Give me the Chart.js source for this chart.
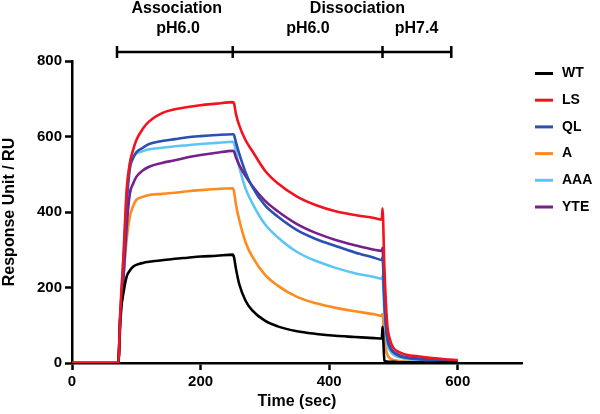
<!DOCTYPE html>
<html>
<head>
<meta charset="utf-8">
<script src="https://cdn.jsdelivr.net/npm/chart.js@4/dist/chart.umd.min.js"></script>
<style>
  body { margin: 0; background: #fff; }
  canvas { display: block; }
</style>
</head>
<body>
<canvas id="sensorgram" width="600" height="414"></canvas>
<script>
// time points (sec)
var time = [0, 72, 75, 80, 85, 90, 95, 100, 110, 120, 140, 160, 180, 200, 225, 250,
    252, 255, 260, 270, 280, 300, 320, 350, 380, 410, 440, 470, 482,
    483, 486, 490, 495, 500, 510, 520, 540, 560, 580, 600];

// response units per sample
var WT = [0, 0, 120, 185, 229, 245, 255, 260, 265, 268, 272, 276, 279, 282, 284, 287,
    280, 250, 210, 165, 140, 112, 97, 84, 77, 72, 69, 66, 65,
    96, 6, 4, 3, 3, 2, 2, 2, 1, 1, 1];
var LS = [0, 0, 130, 282, 458, 530, 564, 590, 620, 640, 662, 672, 678, 683, 687, 691,
    688, 660, 630, 590, 563, 510, 476, 441, 418, 402, 392, 384, 380,
    410, 250, 110, 60, 40, 28, 22, 17, 13, 10, 8];
var QL = [0, 0, 120, 260, 420, 515, 542, 558, 570, 580, 588, 593, 598, 601, 604, 606,
    604, 585, 555, 505, 468, 418, 388, 352, 328, 310, 293, 279, 273,
    280, 160, 70, 40, 28, 18, 14, 10, 8, 6, 5];
var A = [0, 0, 110, 230, 326, 388, 415, 432, 440, 445, 448, 451, 455, 458, 461, 463,
    455, 420, 380, 320, 283, 234, 205, 175, 158, 146, 137, 129, 125,
    130, 60, 25, 12, 8, 5, 4, 3, 2, 2, 1];
var AAA = [0, 0, 125, 280, 440, 528, 546, 555, 561, 566, 570, 574, 577, 580, 583, 586,
    583, 560, 520, 462, 425, 368, 333, 294, 270, 252, 238, 228, 223,
    230, 130, 55, 32, 22, 15, 11, 8, 6, 5, 4];
var YTE = [0, 0, 100, 220, 360, 449, 475, 493, 510, 520, 530, 537, 545, 551, 557, 562,
    560, 545, 525, 495, 470, 430, 402, 368, 344, 326, 312, 300, 297,
    305, 170, 75, 42, 30, 20, 15, 11, 9, 7, 5];

var seriesNames = ['WT', 'LS', 'QL', 'A', 'AAA', 'YTE'];
var seriesValues = [WT, LS, QL, A, AAA, YTE];
var seriesColors = ['#000000', '#f2131f', '#2c4fb2', '#ff8a1e', '#5bc6f4', '#77208b'];
var drawOrder = [1, 0, 2, 5, 4, 3];

var xTicks = [0, 200, 400, 600];
var phaseEdges = [70, 250, 483, 590];
var phaseLabels = [
    {text: 'Association', at: 163, row: 0},
    {text: 'pH6.0', at: 165, row: 1},
    {text: 'Dissociation', at: 444, row: 0},
    {text: 'pH6.0', at: 367, row: 1},
    {text: 'pH7.4', at: 536, row: 1}
];

var FONT = '"Liberation Sans", Arial, sans-serif';

var datasets = [];
for (var i = 0; i < seriesNames.length; i++) {
    var pts = [];
    for (var j = 0; j < time.length; j++) {
        pts.push({x: time[j], y: seriesValues[i][j]});
    }
    datasets.push({
        label: seriesNames[i],
        data: pts,
        borderColor: seriesColors[i],
        backgroundColor: seriesColors[i],
        borderWidth: 2.6,
        pointRadius: 0,
        cubicInterpolationMode: 'monotone',
        order: drawOrder[i]
    });
}

var phasePlugin = {
    id: 'phases',
    afterDraw: function (chart) {
        var c = chart.ctx;
        var xs = chart.scales.x;
        var rowY = [9, 29];
        var barY = 52;
        c.save();
        c.strokeStyle = '#000';
        c.lineWidth = 2.5;
        c.beginPath();
        c.moveTo(xs.getPixelForValue(phaseEdges[0]), barY);
        c.lineTo(xs.getPixelForValue(phaseEdges[phaseEdges.length - 1]), barY);
        for (var k = 0; k < phaseEdges.length; k++) {
            var px = xs.getPixelForValue(phaseEdges[k]);
            c.moveTo(px, barY - 6);
            c.lineTo(px, barY + 6);
        }
        c.stroke();
        c.fillStyle = '#000';
        c.font = 'bold 16px ' + FONT;
        c.textAlign = 'center';
        c.textBaseline = 'middle';
        phaseLabels.forEach(function (p) {
            c.fillText(p.text, xs.getPixelForValue(p.at), rowY[p.row]);
        });
        c.restore();
    }
};

var legendPlugin = {
    id: 'sideLegend',
    afterDraw: function (chart) {
        var c = chart.ctx;
        c.save();
        c.font = 'bold 14px ' + FONT;
        c.textBaseline = 'middle';
        c.textAlign = 'left';
        for (var k = 0; k < seriesNames.length; k++) {
            var y = 73.5 + k * 26.7;
            c.strokeStyle = seriesColors[k];
            c.lineWidth = 3;
            c.beginPath();
            c.moveTo(535, y);
            c.lineTo(553, y);
            c.stroke();
            c.fillStyle = '#000';
            c.fillText(seriesNames[k], 562, y);
        }
        c.restore();
    }
};

new Chart('sensorgram', {
    type: 'line',
    data: {datasets: datasets},
    options: {
        responsive: false,
        animation: false,
        layout: {padding: {top: 61, right: 78, left: 0, bottom: 3}},
        plugins: {
            legend: {display: false},
            tooltip: {enabled: false}
        },
        scales: {
            x: {
                type: 'linear',
                min: 0,
                max: 700,
                afterBuildTicks: function (s) {
                    s.ticks = xTicks.map(function (v) { return {value: v}; });
                },
                afterFit: function (s) { s.height = 48; },
                border: {color: '#000', width: 2.5},
                grid: {drawOnChartArea: false, tickLength: 7, tickColor: '#000', tickWidth: 2.5},
                ticks: {color: '#000', padding: 3, maxRotation: 0, font: {family: FONT, size: 15, weight: 'bold'}},
                title: {display: true, text: 'Time (sec)', color: '#000', padding: 0,
                    font: {family: FONT, size: 16, weight: 'bold'}}
            },
            y: {
                min: 0,
                max: 800,
                afterFit: function (s) { s.width = 72; },
                border: {color: '#000', width: 2.5},
                grid: {drawOnChartArea: false, tickLength: 7, tickColor: '#000', tickWidth: 2.5},
                ticks: {stepSize: 200, color: '#000', padding: 3, font: {family: FONT, size: 15, weight: 'bold'}},
                title: {display: true, text: 'Response Unit / RU', color: '#000', padding: 0,
                    font: {family: FONT, size: 16, weight: 'bold'}}
            }
        }
    },
    plugins: [phasePlugin, legendPlugin]
});
</script>
</body>
</html>
